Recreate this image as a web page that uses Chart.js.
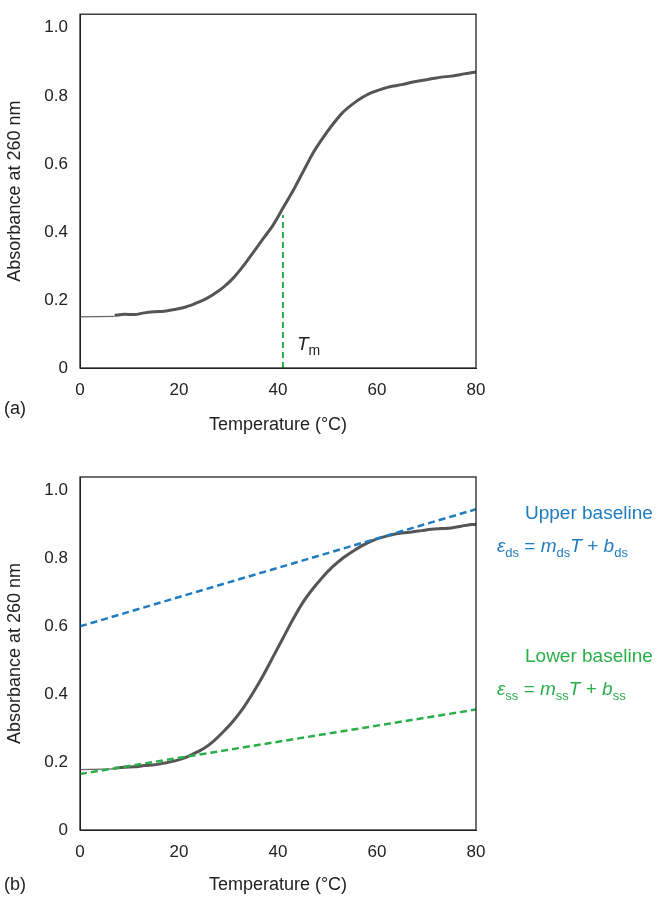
<!DOCTYPE html>
<html><head><meta charset="utf-8">
<script src="https://cdn.jsdelivr.net/npm/chart.js@4.4.1/dist/chart.umd.min.js"></script>
<style>
body{margin:0;background:#fff;font-family:"Liberation Sans",Arial,sans-serif;}
.c{position:absolute;left:0;width:664px;height:440px;}
.t{position:absolute;font-size:18px;color:#222;white-space:nowrap;}
</style></head><body>
<div class="c" style="top:0"><canvas id="a"></canvas></div>
<div class="c" style="top:460px"><canvas id="b"></canvas></div>
<div class="t" style="left:4px;top:398px">(a)</div>
<div class="t" style="left:4px;top:874px">(b)</div>
<div class="t" style="left:297px;top:333px;font-size:19px"><i>T</i><sub style="font-size:14px">m</sub></div>
<div class="t" style="left:525px;top:502px;color:#1f7cc0;font-size:19px">Upper baseline</div>
<div class="t" style="left:497px;top:535px;color:#1f7cc0;font-size:19px"><i>ε</i><sub style="font-size:13px">ds</sub> = <i>m</i><sub style="font-size:13px">ds</sub><i>T</i> + <i>b</i><sub style="font-size:13px">ds</sub></div>
<div class="t" style="left:525px;top:645px;color:#2aae4a;font-size:19px">Lower baseline</div>
<div class="t" style="left:497px;top:678px;color:#2aae4a;font-size:19px"><i>ε</i><sub style="font-size:13px">ss</sub> = <i>m</i><sub style="font-size:13px">ss</sub><i>T</i> + <i>b</i><sub style="font-size:13px">ss</sub></div>
<script>
const tempsA=[7,9,11,13,15,17,19,21,23,25,27,29,31,33,35,37,39,41,43,45,47,49,51,53,55,57,59,61,63,65,67,69,71,73,75,77,79,80];
const absA=[0.155,0.158,0.157,0.162,0.165,0.167,0.172,0.178,0.188,0.2,0.217,0.238,0.265,0.3,0.34,0.38,0.42,0.47,0.52,0.575,0.63,0.675,0.715,0.75,0.775,0.795,0.81,0.82,0.828,0.833,0.84,0.845,0.85,0.855,0.858,0.863,0.868,0.87];
const leadA=[[0,0.15],[7,0.152]];
const tempsB=[7,9,11,13,15,17,19,21,23,25,27,29,31,33,35,37,39,41,43,45,47,49,51,53,55,57,59,61,63,65,67,69,71,73,75,77,79,80];
const absB=[0.182,0.185,0.186,0.19,0.192,0.197,0.203,0.212,0.225,0.24,0.262,0.29,0.322,0.36,0.405,0.455,0.51,0.565,0.62,0.67,0.71,0.745,0.775,0.8,0.82,0.838,0.852,0.862,0.87,0.875,0.878,0.882,0.886,0.888,0.89,0.895,0.9,0.9];
const leadB=[[0,0.178],[7,0.18]];
const upperBase=[[0,0.6],[80,0.945]];
const lowerBase=[[0,0.165],[80,0.355]];
const tmLine=[[41,0],[41,0.45]];
const xTicks=[0,20,40,60,80];
const yTicks=[0,0.2,0.4,0.6,0.8,1.0];
const yLabels=["0","0.2","0.4","0.6","0.8","1.0"];
const pts=(xs,ys)=>xs.map((x,i)=>({x,y:ys[i]}));
const pp=a=>a.map(p=>({x:p[0],y:p[1]}));
const frame={id:'frame',afterDraw(c){const a=c.chartArea,x=c.ctx;x.save();x.strokeStyle='#222';x.lineWidth=1.3;x.strokeRect(a.left,a.top,a.right-a.left,a.bottom-a.top);x.restore();}};
function mk(id,sets,top,xh){
 new Chart(document.getElementById(id),{type:'line',data:{datasets:sets},plugins:[frame],
 options:{responsive:true,maintainAspectRatio:false,animation:false,
  layout:{padding:{top:top,right:188,left:0,bottom:0}},
  plugins:{legend:{display:false},tooltip:{enabled:false}},
  elements:{point:{radius:0}},
  scales:{
   x:{type:'linear',min:0,max:80,grid:{display:false},border:{color:'#222'},
     afterBuildTicks:s=>{s.ticks=xTicks.map(v=>({value:v}));},
     afterFit:s=>{s.height=xh;},
     ticks:{color:'#222',font:{size:17,family:'Liberation Sans'},padding:4,maxRotation:0},
     title:{display:true,text:'Temperature (°C)',color:'#222',font:{size:18,family:'Liberation Sans'},padding:{top:2}}},
   y:{min:0,max:1.04,grid:{display:false},border:{color:'#222'},
     afterBuildTicks:s=>{s.ticks=yTicks.map(v=>({value:v}));},
     afterFit:s=>{s.width=80;},
     ticks:{color:'#222',font:{size:17,family:'Liberation Sans'},padding:4,callback:(v)=>yLabels[yTicks.findIndex(t=>Math.abs(t-v)<1e-6)]},
     title:{display:true,text:'Absorbance at 260 nm',color:'#222',font:{size:18,family:'Liberation Sans'},padding:{bottom:2}}}
 }}});
}
mk('a',[
 {data:pp(leadA),borderColor:'#666',borderWidth:1.2,tension:0},
 {data:pts(tempsA,absA),borderColor:'#555',borderWidth:3,tension:0.3},
 {data:pp(tmLine),borderColor:'#2aae4a',borderWidth:2,borderDash:[6,4]}
],-4,72);
mk('b',[
 {data:pp(upperBase),borderColor:'#1f7cc0',borderWidth:2.5,borderDash:[7,4]},
 {data:pp(lowerBase),borderColor:'#2aae4a',borderWidth:2.5,borderDash:[7,4]},
 {data:pp(leadB),borderColor:'#666',borderWidth:1.2},
 {data:pts(tempsB,absB),borderColor:'#555',borderWidth:3,tension:0.3}
],17,70);
</script></body></html>
